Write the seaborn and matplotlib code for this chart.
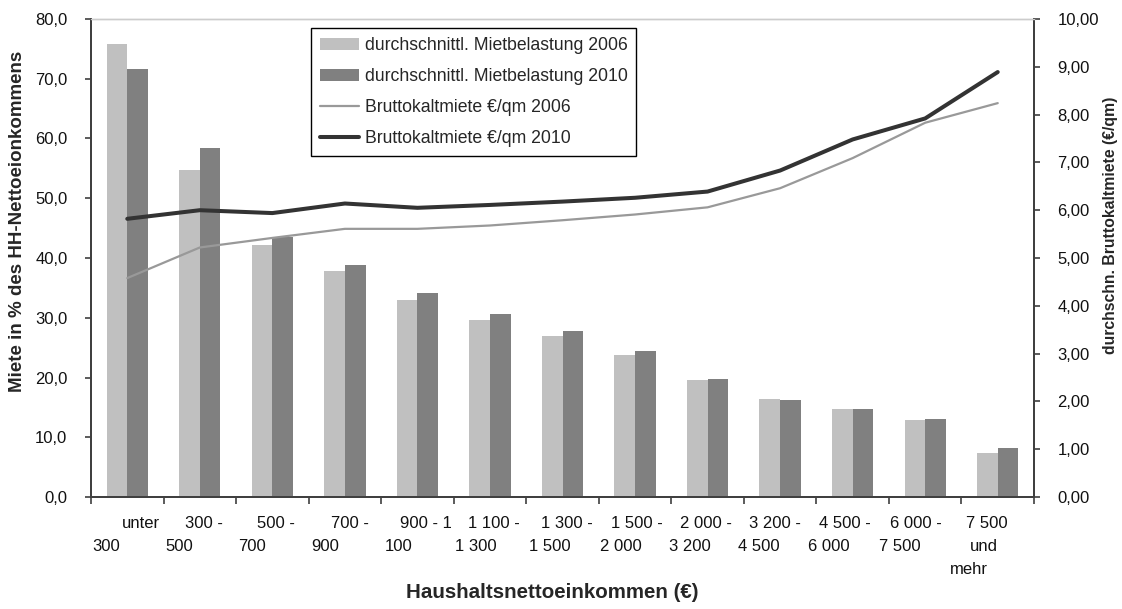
import numpy as np
import pandas as pd
import matplotlib
matplotlib.use("Agg")
import matplotlib.pyplot as plt
import seaborn as sns
from matplotlib.ticker import FuncFormatter, MultipleLocator, FixedLocator
from matplotlib.transforms import blended_transform_factory

# Einkommensklassen (Tick-Beschriftungen, zeilenweise wie im Original umbrochen)
label_lines = [
    ["unter", "300"], ["300 -", "500"], ["500 -", "700"], ["700 -", "900"],
    ["900 - 1", "100"], ["1 100 -", "1 300"], ["1 300 -", "1 500"],
    ["1 500 -", "2 000"], ["2 000 -", "3 200"], ["3 200 -", "4 500"],
    ["4 500 -", "6 000"], ["6 000 -", "7 500"], ["7 500", "und", "mehr"],
]
categories = [" ".join(l) for l in label_lines]

# Mietbelastung in % des HH-Nettoeinkommens
belastung_2006 = [75.8, 54.8, 42.1, 37.9, 33.0, 29.6, 26.9, 23.8, 19.6, 16.4, 14.7, 12.9, 7.3]
belastung_2010 = [71.6, 58.4, 43.5, 38.9, 34.1, 30.7, 27.8, 24.5, 19.8, 16.2, 14.7, 13.1, 8.2]

# Bruttokaltmiete in €/qm
miete_2006 = [4.58, 5.22, 5.42, 5.61, 5.61, 5.68, 5.79, 5.91, 6.06, 6.46, 7.09, 7.83, 8.24]
miete_2010 = [5.82, 6.00, 5.94, 6.14, 6.05, 6.11, 6.18, 6.26, 6.39, 6.83, 7.48, 7.92, 8.89]

bar_names = ["durchschnittl. Mietbelastung 2006", "durchschnittl. Mietbelastung 2010"]
line_names = ["Bruttokaltmiete €/qm 2006", "Bruttokaltmiete €/qm 2010"]

# Versatz der Beschriftungszeilen (px) relativ zur Gruppenmitte - Excel-Layout nachgebaut
line1_dx = [14, 4, 4, 5, 9, 4, 4, 2, -2, -5, -8, -9, -11]
line2_dx = [-21, -21, -20, -20, -19, -14, -13, -14, -18, -21, -24, -25, -14]
line3_dx = [None] * 12 + [-29]

df = pd.DataFrame({
    "klasse": categories * 2,
    "wert": belastung_2006 + belastung_2010,
    "serie": [bar_names[0]] * len(categories) + [bar_names[1]] * len(categories),
})

sns.set_style("white")
plt.rcParams["font.family"] = ["Liberation Sans", "DejaVu Sans"]

fig = plt.figure(figsize=(11.22, 6.09), dpi=100)
ax = fig.add_axes([91 / 1122, 112 / 609, 943 / 1122, 478 / 609])

sns.barplot(data=df, x="klasse", y="wert", hue="serie", order=categories,
            palette=["#C0C0C0", "#808080"], width=0.57, gap=0, saturation=1,
            edgecolor="none", ax=ax)
handles, labels = ax.get_legend_handles_labels()
if ax.legend_ is not None:
    ax.legend_.remove()

ax2 = ax.twinx()
x = np.arange(len(categories))
sns.lineplot(x=x, y=miete_2006, color="#999999", linewidth=1.6, label=line_names[0], ax=ax2)
sns.lineplot(x=x, y=miete_2010, color="#333333", linewidth=2.9, label=line_names[1], ax=ax2)
h2, l2 = ax2.get_legend_handles_labels()

ax.set_xlim(-0.5, len(categories) - 0.5)
ax.set_ylim(0, 80)
ax2.set_ylim(0, 10)

ax.yaxis.set_major_locator(MultipleLocator(10))
ax.yaxis.set_major_formatter(FuncFormatter(lambda v, p: f"{v:.1f}".replace(".", ",")))
ax2.yaxis.set_major_locator(MultipleLocator(1))
ax2.yaxis.set_major_formatter(FuncFormatter(lambda v, p: f"{v:.2f}".replace(".", ",")))

ax.xaxis.set_major_locator(FixedLocator(np.arange(len(categories) + 1) - 0.5))
ax.set_xticklabels([])
ax.set_xlabel("")

axis_col = "#404040"
for a in (ax, ax2):
    for s in a.spines.values():
        s.set_color(axis_col)
        s.set_linewidth(1.4)
    a.spines["top"].set_color("#CCCCCC")
    a.spines["top"].set_linewidth(1.0)

ax.tick_params(axis="y", direction="out", length=4, width=1.2, color=axis_col,
               labelsize=12, labelcolor="#111111", pad=13, left=True)
ax.tick_params(axis="x", direction="out", length=5, width=1.2, color=axis_col, bottom=True)
ax2.tick_params(axis="y", direction="out", length=4, width=1.2, color=axis_col,
                labelsize=12, labelcolor="#111111", pad=13, right=True)

# Kategorien-Beschriftung zeilenweise
trans = blended_transform_factory(ax.transData, ax.transAxes)
for i, lines in enumerate(label_lines):
    offsets = [line1_dx[i], line2_dx[i], line3_dx[i]]
    for k, txt in enumerate(lines):
        ax.annotate(txt, xy=(i, 0), xycoords=trans,
                    xytext=(offsets[k] * 0.72, -(27 + 22.5 * k) * 0.72),
                    textcoords="offset points", ha="center", va="center",
                    fontsize=12, color="#111111", annotation_clip=False)

ax.set_ylabel("Miete in % des HH-Nettoeionkommens", fontsize=13.5, fontweight="bold", va="center")
ax.yaxis.set_label_coords((18 - 91) / 943, 0.577)
ax2.set_ylabel("durchschn. Bruttokaltmiete (€/qm)", fontsize=11.3, fontweight="bold", va="center")
ax2.yaxis.set_label_coords((1110 - 91) / 943, 0.569)
ax.text(0.489, -0.2, "Haushaltsnettoeinkommen (€)", transform=ax.transAxes,
        ha="center", va="center", fontsize=14.8, fontweight="bold")

leg = ax2.legend(handles + h2, labels + l2, loc="upper left", bbox_to_anchor=(0.233, 0.981),
                 frameon=True, fancybox=False, edgecolor="black", framealpha=1,
                 borderaxespad=0, fontsize=12.7, handlelength=2.25, handletextpad=0.3,
                 labelspacing=0.8, borderpad=0.5)
leg.get_frame().set_linewidth(1.0)

fig.savefig("out.png", dpi=100)
